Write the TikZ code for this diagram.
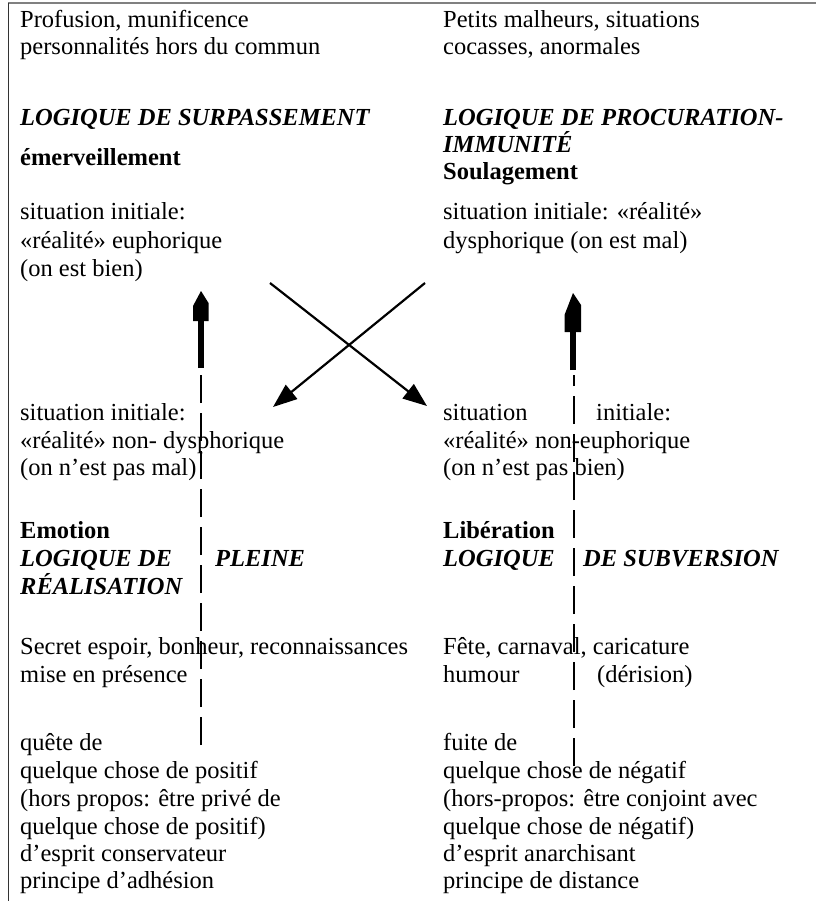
\documentclass[tikz,border=0pt]{standalone}
\usepackage{fontspec}
\setmainfont{Liberation Serif}
\usetikzlibrary{arrows.meta}
\begin{document}
\begin{tikzpicture}[x=1pt,y=-1pt,
  txt/.style={anchor=base west,inner sep=0pt,font=\fontsize{24.5}{28}\selectfont},
  bi/.style={txt,font=\fontsize{24.5}{28}\selectfont\bfseries\itshape},
  bd/.style={txt,font=\fontsize{24.5}{28}\selectfont\bfseries},
  cross/.style={line width=2.2pt,-{Triangle[length=24pt,width=18pt]}},
  shaft/.style={line width=5.5pt},
  dashline/.style={line width=2.5pt,dash pattern=on 28pt off 10pt},
  pencil/.style={fill=black}]
\useasboundingbox (0,0) rectangle (816,901);
% frame
\draw[gray,line width=2pt] (8,3) -- (816,3);
\draw[black!80,line width=1pt] (8,3) -- (8,901);
% left column
\node[txt] (l1) at (20,28) {Profusion, munificence};
\node[txt] (l2) at (20,55) {personnalités hors du commun};
\node[bi]  (l3) at (20,126) {LOGIQUE DE SURPASSEMENT};
\node[bd]  (l4) at (20,166) {émerveillement};
\node[txt] (l5) at (20,220) {situation initiale:};
\node[txt] (l6) at (20,248) {«réalité» euphorique};
\node[txt] (l7) at (20,276) {(on est bien)};
\node[txt] (l8) at (20,420) {situation initiale:};
\node[txt] (l9) at (20,448) {«réalité» non- dysphorique};
\node[txt] (l10) at (20,475) {(on n’est pas mal)};
\node[bd]  (l11) at (20,538) {Emotion};
\node[bi]  (l12) at (20,566) {LOGIQUE DE};
\node[bi]  (l12b) at (215,566) {PLEINE};
\node[bi]  (l13) at (20,594) {RÉALISATION};
\node[txt] (l14) at (20,654) {Secret espoir, bonheur, reconnaissances};
\node[txt] (l15) at (20,682) {mise en présence};
\node[txt] (l16) at (20,750) {quête de};
\node[txt] (l17) at (20,778) {quelque chose de positif};
\node[txt] (l18) at (20,806) {(hors propos: être privé de};
\node[txt] (l19) at (20,834) {quelque chose de positif)};
\node[txt] (l20) at (20,861) {d’esprit conservateur};
\node[txt] (l21) at (20,888) {principe d’adhésion};
% right column
\node[txt] (r1) at (443,28) {Petits malheurs, situations};
\node[txt] (r2) at (443,55) {cocasses, anormales};
\node[bi]  (r3) at (443,126) {LOGIQUE DE PROCURATION-};
\node[bi]  (r4) at (443,153) {IMMUNITÉ};
\node[bd]  (r5) at (443,180) {Soulagement};
\node[txt] (r6) at (443,220) {situation initiale: «réalité»};
\node[txt] (r7) at (443,248) {dysphorique (on est mal)};
\node[txt] (r8) at (443,420) {situation};
\node[txt] (r8b) at (596,420) {initiale:};
\node[txt] (r9) at (443,448) {«réalité» non-euphorique};
\node[txt] (r10) at (443,475) {(on n’est pas bien)};
\node[bd]  (r11) at (443,538) {Libération};
\node[bi]  (r12) at (443,566) {LOGIQUE};
\node[bi]  (r12b) at (583,566) {DE SUBVERSION};
\node[txt] (r14) at (443,654) {Fête, carnaval, caricature};
\node[txt] (r15) at (443,682) {humour};
\node[txt] (r15b) at (597,682) {(dérision)};
\node[txt] (r16) at (443,750) {fuite de};
\node[txt] (r17) at (443,778) {quelque chose de négatif};
\node[txt] (r18) at (443,806) {(hors-propos: être conjoint avec};
\node[txt] (r19) at (443,834) {quelque chose de négatif)};
\node[txt] (r20) at (443,861) {d’esprit anarchisant};
\node[txt] (r21) at (443,888) {principe de distance};
% crossing arrows
\coordinate (a1s) at (270,283);
\coordinate (a1e) at (427,406);
\coordinate (a2s) at (425,283);
\coordinate (a2e) at (273,407);
\draw[cross] (a1s) -- (a1e);
\draw[cross] (a2s) -- (a2e);
% left vertical arrow
\coordinate (lb) at (201,745);
\coordinate (lm) at (201,375);
\coordinate (ls) at (201,321);
\draw[dashline] (lb) -- (lm);
\draw[shaft] (201,368) -- (ls);
\fill[pencil] (193,321) -- (193,306) -- (201,291) -- (208.5,303) -- (208.5,321) -- cycle;
% right vertical arrow
\coordinate (rb) at (574,766);
\coordinate (rm) at (574,375);
\coordinate (rs) at (573,332);
\draw[dashline] (rb) -- (rm);
\draw[shaft] (573,370) -- (rs);
\fill[pencil] (564.5,332) -- (564.5,315) -- (573,293) -- (581,305) -- (581,332) -- cycle;
\end{tikzpicture}
\end{document}
